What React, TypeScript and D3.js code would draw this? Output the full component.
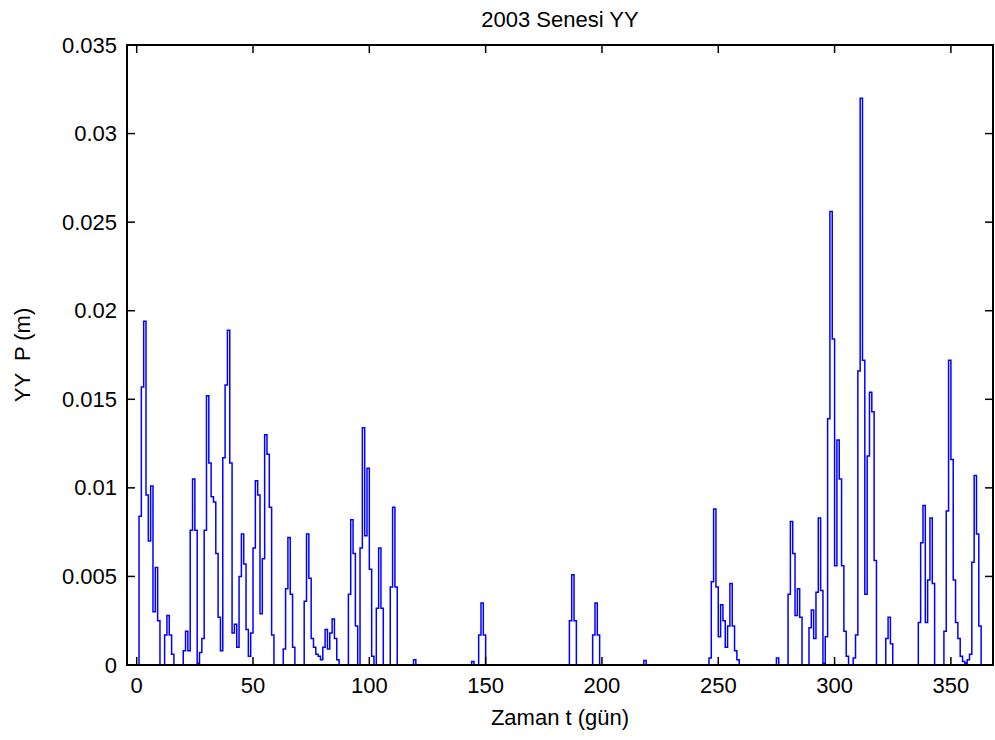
import React from "react";
import * as d3 from "d3";

// Daily values, unit 1e-3 m, day index 0..365
const dailyValues: number[] = [
  // 0-9
  0, 8.4, 15.7, 19.4, 9.6, 7.0, 10.1, 3.0, 5.5, 2.5,
  // 10-19
  0, 0, 1.7, 2.8, 1.7, 0.6, 0, 0, 0, 0,
  // 20-29
  0.8, 1.9, 0.8, 7.6, 10.5, 7.6, 0.1, 0.7, 1.5, 7.6,
  // 30-39
  15.2, 11.4, 9.5, 9.2, 6.3, 2.7, 0.8, 11.7, 15.8, 18.9,
  // 40-49
  11.4, 1.8, 2.3, 1.0, 5.0, 7.4, 5.7, 2.0, 0.5, 1.8,
  // 50-59
  6.6, 10.4, 9.6, 2.9, 6.0, 13.0, 11.9, 8.9, 1.7, 0,
  // 60-69
  0, 0, 0, 0.9, 4.3, 7.2, 4.0, 1.0, 0, 0,
  // 70-79
  0, 0, 3.6, 7.4, 4.9, 1.5, 1.0, 0.6, 0.5, 0.3,
  // 80-89
  1.0, 2.0, 0.9, 1.8, 2.6, 1.5, 0.3, 0, 0, 0,
  // 90-99
  0, 4.0, 8.2, 6.3, 2.2, 0, 6.6, 13.4, 7.3, 11.1,
  // 100-109
  5.4, 0.5, 0, 3.2, 6.6, 3.2, 0, 0, 0, 4.4,
  // 110-119
  8.9, 4.4, 0, 0, 0, 0, 0, 0, 0, 0.3,
  // 120-129
  0, 0, 0, 0, 0, 0, 0, 0, 0, 0,
  // 130-139
  0, 0, 0, 0, 0, 0, 0, 0, 0, 0,
  // 140-149
  0, 0, 0, 0, 0.2, 0, 0, 1.7, 3.5, 1.7,
  // 150-159
  0, 0, 0, 0, 0, 0, 0, 0, 0, 0,
  // 160-169
  0, 0, 0, 0, 0, 0, 0, 0, 0, 0,
  // 170-179
  0, 0, 0, 0, 0, 0, 0, 0, 0, 0,
  // 180-189
  0, 0, 0, 0, 0, 0, 2.5, 5.1, 2.5, 0,
  // 190-199
  0, 0, 0, 0, 0, 0, 1.7, 3.5, 1.7, 0,
  // 200-209
  0, 0, 0, 0, 0, 0, 0, 0, 0, 0,
  // 210-219
  0, 0, 0, 0, 0, 0, 0, 0, 0.25, 0,
  // 220-229
  0, 0, 0, 0, 0, 0, 0, 0, 0, 0,
  // 230-239
  0, 0, 0, 0, 0, 0, 0, 0, 0, 0,
  // 240-249
  0, 0, 0, 0, 0, 0, 0.4, 4.7, 8.8, 4.4,
  // 250-259
  1.6, 3.4, 2.5, 1.0, 2.2, 4.6, 2.2, 0.8, 0.3, 0,
  // 260-269
  0, 0, 0, 0, 0, 0, 0, 0, 0, 0,
  // 270-279
  0, 0, 0, 0, 0, 0.4, 0, 0, 0, 0,
  // 280-289
  4.0, 8.1, 6.3, 2.8, 4.3, 2.7, 0, 0, 0, 2.1,
  // 290-299
  3.1, 1.5, 4.1, 8.3, 4.2, 0.1, 1.6, 13.9, 25.6, 18.4,
  // 300-309
  5.6, 12.7, 10.5, 5.6, 1.9, 0.5, 0, 0, 0.4, 1.7,
  // 310-319
  16.6, 32.0, 17.2, 4.0, 11.8, 15.4, 14.3, 5.9, 0, 0,
  // 320-329
  0, 0, 1.5, 2.7, 1.2, 0, 0, 0, 0, 0,
  // 330-339
  0, 0, 0, 0, 0, 0, 2.4, 6.9, 9.0, 2.4,
  // 340-349
  4.8, 8.3, 4.6, 0, 0, 0, 0, 1.9, 8.7, 17.2,
  // 350-359
  11.6, 4.8, 2.4, 1.5, 0.5, 0.2, 0.1, 0.3, 0.6, 5.8,
  // 360-365
  10.7, 7.4, 2.2, 0, 0, 0,
];

const xTicks = [0, 50, 100, 150, 200, 250, 300, 350];
const yTicks = [0, 0.005, 0.01, 0.015, 0.02, 0.025, 0.03, 0.035];
const yTickLabels = ["0", "0.005", "0.01", "0.015", "0.02", "0.025", "0.03", "0.035"];

const titleText = "2003 Senesi YY";
const xLabelText = "Zaman t (gün)";
const yLabelText = "YY  P (m)";

const W = 995;
const H = 740;
const left = 127;
const right = 993;
const top = 45;
const bottom = 665;
const tickLen = 8;
const font = "'Liberation Sans', Arial, Helvetica, sans-serif";
const fontSize = 22;

export default function App() {
  const x = d3.scaleLinear().domain([-4.17, 368.1]).range([left, right]);
  const y = d3.scaleLinear().domain([0, 0.035]).range([bottom, top]);

  const line = d3
    .line<number>()
    .x((_, i) => x(i))
    .y((v) => y(v * 1e-3))
    .curve(d3.curveStepAfter);

  const path = line(dailyValues) || "";

  return (
    <svg
      width={W}
      height={H}
      style={{ position: "absolute", left: 0, top: 0, background: "#fff" }}
      fontFamily={font}
    >
      <rect x={0} y={0} width={W} height={H} fill="#fff" />
      <path d={path} fill="none" stroke="#0000ff" strokeWidth={1.5} />
      {/* box */}
      <rect
        x={left}
        y={top}
        width={right - left}
        height={bottom - top}
        fill="none"
        stroke="#000"
        strokeWidth={2}
      />
      {/* x ticks */}
      {xTicks.map((t) => (
        <g key={"x" + t}>
          <line x1={x(t)} x2={x(t)} y1={bottom} y2={bottom - tickLen} stroke="#000" strokeWidth={1.5} />
          <line x1={x(t)} x2={x(t)} y1={top} y2={top + tickLen} stroke="#000" strokeWidth={1.5} />
          <text
            x={x(t)}
            y={bottom + 20}
            textAnchor="middle"
            dominantBaseline="central"
            fontSize={fontSize}
            fill="#000"
          >
            {t}
          </text>
        </g>
      ))}
      {/* y ticks */}
      {yTicks.map((t, i) => (
        <g key={"y" + t}>
          <line x1={left} x2={left + tickLen} y1={y(t)} y2={y(t)} stroke="#000" strokeWidth={1.5} />
          <line x1={right} x2={right - tickLen} y1={y(t)} y2={y(t)} stroke="#000" strokeWidth={1.5} />
          <text
            x={left - 10}
            y={y(t)}
            textAnchor="end"
            dominantBaseline="central"
            fontSize={fontSize}
            fill="#000"
          >
            {yTickLabels[i]}
          </text>
        </g>
      ))}
      <text
        x={(left + right) / 2}
        y={19}
        textAnchor="middle"
        dominantBaseline="central"
        fontSize={fontSize}
        fill="#000"
      >
        {titleText}
      </text>
      <text
        x={(left + right) / 2}
        y={717}
        textAnchor="middle"
        dominantBaseline="central"
        fontSize={fontSize}
        fill="#000"
      >
        {xLabelText}
      </text>
      <text
        transform={`translate(22, ${(top + bottom) / 2}) rotate(-90)`}
        textAnchor="middle"
        dominantBaseline="central"
        fontSize={fontSize}
        fill="#000"
        style={{ whiteSpace: "pre" }}
      >
        {yLabelText}
      </text>
    </svg>
  );
}
